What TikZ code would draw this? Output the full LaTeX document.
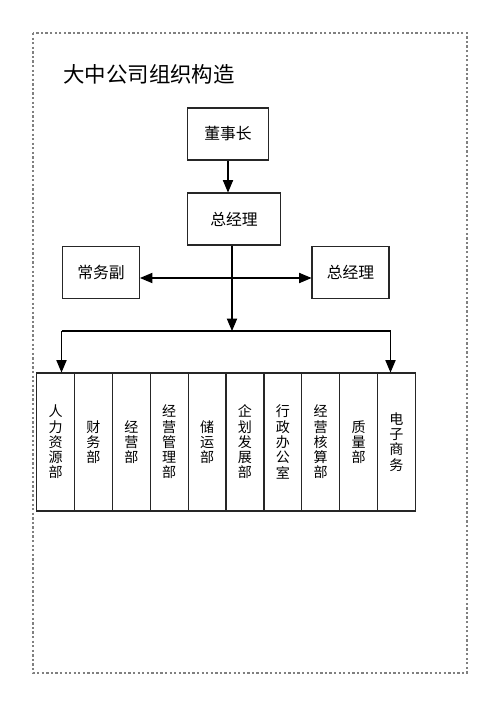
\documentclass[tikz,border=0pt]{standalone}
\usepackage{fontspec}
\newfontfamily\cjk{Noto Sans CJK SC}
\usetikzlibrary{arrows}

\begin{document}
\begin{tikzpicture}[x=0.02cm, y=-0.02cm, font=\cjk]
		\tikzstyle{frame} = [draw=gray, dash pattern=on 1.3pt off 1.3pt, line width=0.6pt]
		
		\tikzstyle{post} = [rectangle, draw=black!85, line width=0.6pt, minimum height=1.04cm, text centered, font=\cjk\fontsize{9}{11}\selectfont]
		
		\tikzstyle{dept} = [rectangle, draw=black!85, line width=0.6pt, minimum width=0.757cm, minimum height=2.76cm, inner sep=0pt, align=center, font=\cjk\fontsize{8}{8.7}\selectfont]
		
		\tikzstyle{arrow} = [->,>= triangle 45, line width=0.6pt]
		
		\useasboundingbox (0,0) rectangle (500,708);
		\draw [frame] (33,33) rectangle (467,673);
		
		% Title
		\node (title) [anchor=west, inner sep=0pt, font=\cjk\fontsize{12.2}{14}\selectfont] at (63,74) {大中公司组织构造};
		
		% Top level nodes
		\node (chair) [post, minimum width=1.63cm] at (228,134) {董事长};
		\node (gm) [post, minimum width=1.87cm] at (234,219) {总经理};
		\node (vp) [post, minimum width=1.54cm] at (101,272.5) {常务副};
		\node (gm2) [post, minimum width=1.54cm] at (350.5,272.5) {总经理};
		
		% Department nodes
		\node (d1) [dept] at (55.6,442) {人\\力\\资\\源\\部};
		\node (d2) [dept] at (93.5,442) {财\\务\\部};
		\node (d3) [dept] at (131.4,442) {经\\营\\部};
		\node (d4) [dept] at (169.2,442) {经\\营\\管\\理\\部};
		\node (d5) [dept] at (207.1,442) {储\\运\\部};
		\node (d6) [dept] at (245.0,442) {企\\划\\发\\展\\部};
		\node (d7) [dept] at (282.9,442) {行\\政\\办\\公\\室};
		\node (d8) [dept] at (320.7,442) {经\\营\\核\\算\\部};
		\node (d9) [dept] at (358.6,442) {质\\量\\部};
		\node (d10) [dept] at (396.4,442) {电\\子\\商\\务};
		
		% Bracket points
		\coordinate (hub) at (232,331);
		\coordinate (bl) at (61.5,331);
		\coordinate (br) at (390.5,331);
		
		% Arrows
		\draw [arrow] (chair.south) -- (chair.south |- gm.north);
		\draw [arrow] (gm.south -| hub) -- (hub);
		\draw [arrow, <->] ([yshift=-0.11cm]vp.east) -- ([yshift=-0.11cm]gm2.west);
		\draw [line width=0.6pt] (bl) -- (br);
		\draw [arrow] (bl) -- (bl |- d1.north);
		\draw [arrow] (br) -- (br |- d10.north);
	\end{tikzpicture}
\end{document}
